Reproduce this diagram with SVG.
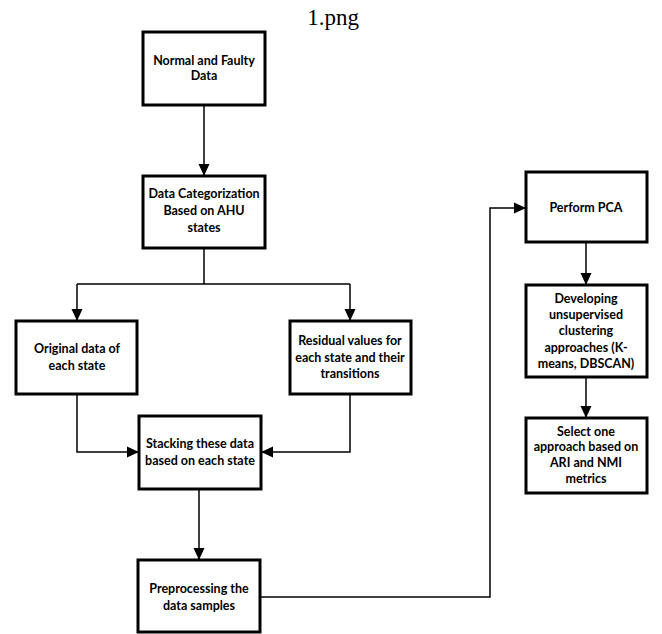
<svg xmlns="http://www.w3.org/2000/svg" width="662" height="634" viewBox="0 0 662 634">
<style>
.box{fill:#fff;stroke:#000;stroke-width:3}
.t{font-family:Lato,"Open Sans","Liberation Sans",sans-serif;font-weight:bold;font-size:12.5px;fill:#000;text-anchor:middle}
.c{fill:none;stroke:#000;stroke-width:1.5}
.title{font-family:"Liberation Serif","DejaVu Serif",serif;font-size:23px;fill:#000;text-anchor:middle}
</style>
<defs>
<marker id="ah" markerUnits="userSpaceOnUse" markerWidth="12" markerHeight="12" viewBox="0 0 12 12" refX="12" refY="6" orient="auto">
<path d="M0,0.5 L12,6 L0,11.5 Z" fill="#000"/>
</marker>
</defs>
<rect width="662" height="634" fill="#fff"/>
<text class="title" x="333" y="25">1.png</text>
<g id="connectors">
<path class="c" d="M204,105 V176" marker-end="url(#ah)"/>
<path class="c" d="M204,248 V284 M77,284 H350"/>
<path class="c" d="M77,284 V321" marker-end="url(#ah)"/>
<path class="c" d="M350,284 V321" marker-end="url(#ah)"/>
<path class="c" d="M77,394 V452 H139" marker-end="url(#ah)"/>
<path class="c" d="M350,394 V452 H261" marker-end="url(#ah)"/>
<path class="c" d="M199,489 V560" marker-end="url(#ah)"/>
<path class="c" d="M260,597 H490 V208 H526" marker-end="url(#ah)"/>
<path class="c" d="M586,242 V285" marker-end="url(#ah)"/>
<path class="c" d="M586,377 V418" marker-end="url(#ah)"/>
</g>
<g id="n1"><rect class="box" x="143" y="32" width="122" height="73"/>
<text class="t" x="204" y="65">Normal and Faulty</text><text class="t" x="204" y="80">Data</text></g>
<g id="n2"><rect class="box" x="143" y="176" width="122" height="72"/>
<text class="t" x="204" y="198">Data Categorization</text><text class="t" x="204" y="215">Based on AHU</text><text class="t" x="204" y="232">states</text></g>
<g id="n3"><rect class="box" x="16" y="321" width="121" height="73"/>
<text class="t" x="77" y="353">Original data of</text><text class="t" x="77" y="370">each state</text></g>
<g id="n4"><rect class="box" x="290" y="321" width="121" height="73"/>
<text class="t" x="350" y="345">Residual values for</text><text class="t" x="350" y="362">each state and their</text><text class="t" x="350" y="378">transitions</text></g>
<g id="n5"><rect class="box" x="139" y="416" width="122" height="73"/>
<text class="t" x="200" y="448">Stacking these data</text><text class="t" x="200" y="465">based on each state</text></g>
<g id="n6"><rect class="box" x="138" y="560" width="122" height="72"/>
<text class="t" x="199" y="593">Preprocessing the</text><text class="t" x="199" y="610">data samples</text></g>
<g id="n7"><rect class="box" x="526" y="172" width="121" height="70"/>
<text class="t" x="586" y="212">Perform PCA</text></g>
<g id="n8"><rect class="box" x="526" y="285" width="121" height="92"/>
<text class="t" x="586" y="303">Developing</text><text class="t" x="586" y="319">unsupervised</text><text class="t" x="586" y="335">clustering</text><text class="t" x="586" y="352">approaches (K-</text><text class="t" x="586" y="368">means, DBSCAN)</text></g>
<g id="n9"><rect class="box" x="526" y="418" width="121" height="75"/>
<text class="t" x="586" y="436">Select one</text><text class="t" x="586" y="451">approach based on</text><text class="t" x="586" y="467">ARI and NMI</text><text class="t" x="586" y="483">metrics</text></g>
</svg>
